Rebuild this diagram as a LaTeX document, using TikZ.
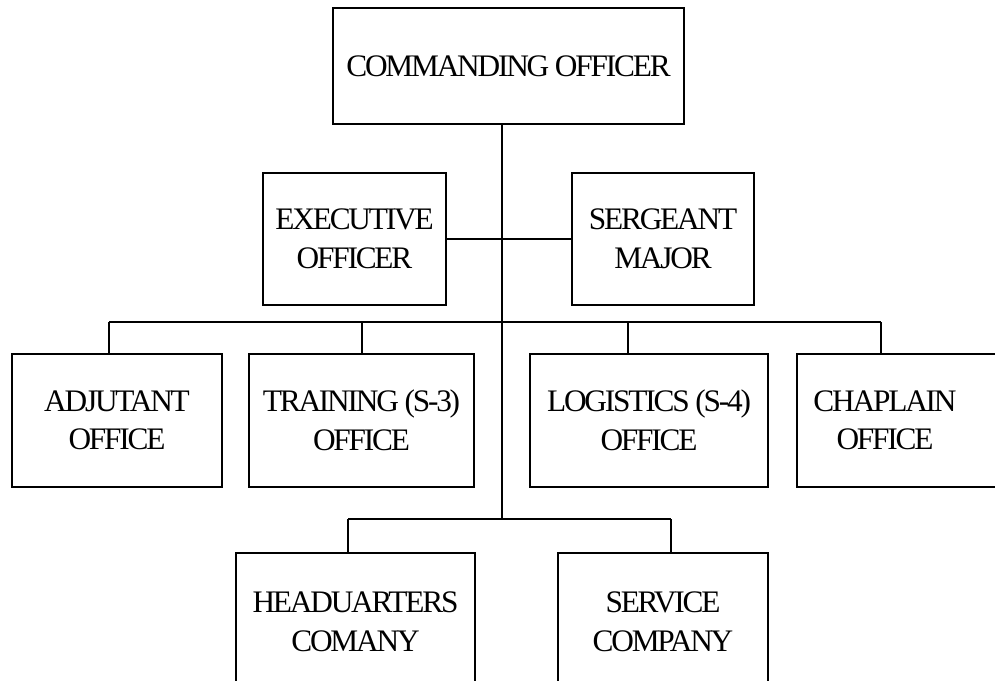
\documentclass[tikz,border=0pt]{standalone}
\usepackage{fontspec}
\usepackage{tikz}
\newfontfamily\orgfont{Liberation Serif}[LetterSpace=-7.0]
\newlength\px
\setlength\px{0.75pt}
\tikzset{
	unit/.style={draw, line width=1.5\px, align=center, inner sep=0pt,
		font=\orgfont\fontsize{23.5}{28.9}\selectfont},
	link/.style={line width=1.5\px},
	label text/.style={align=center, inner sep=0pt,
		font=\orgfont\fontsize{23.5}{28.9}\selectfont}
}
\begin{document}
\begin{tikzpicture}[x=\px, y=-\px]
	\useasboundingbox (0,0) rectangle (995,681);
	\node[unit, minimum width=351\px, minimum height=116\px] (co) at (508.5,66) {COMMANDING OFFICER};
	\node[unit, minimum width=183\px, minimum height=132\px] (xo) at (354.5,239) {EXECUTIVE\\OFFICER};
	\node[unit, minimum width=182\px, minimum height=132\px] (sgm) at (663,239) {SERGEANT\\MAJOR};
	\node[unit, minimum width=210\px, minimum height=133\px] (adj) at (117,420.5) {ADJUTANT\\OFFICE};
	\node[unit, minimum width=225\px, minimum height=133\px] (train) at (361.5,420.5) {TRAINING (S-3)\\OFFICE};
	\node[unit, minimum width=238\px, minimum height=133\px] (log) at (649,420.5) {LOGISTICS (S-4)\\OFFICE};
	\node[unit, minimum width=220\px, minimum height=133\px, anchor=west] (chapBox) at (796,420.5) {};
	\node[label text] (chap) at (885,420.5) {CHAPLAIN\\OFFICE};
	\node[unit, minimum width=239\px, minimum height=138\px, anchor=north] (hq) at (355.5,552) {HEADUARTERS\\COMANY};
	\node[unit, minimum width=210\px, minimum height=138\px, anchor=north] (svc) at (663,552) {SERVICE\\COMPANY};
	% spine and buses
	\coordinate (mid) at (502,239);
	\coordinate (low) at (502,519);
	\coordinate (dAdj) at (109,322);
	\coordinate (dTrain) at (362,322);
	\coordinate (dLog) at (628,322);
	\coordinate (dChap) at (881,322);
	\coordinate (dHq) at (348,519);
	\coordinate (dSvc) at (671,519);
	\draw[link] (co.south -| mid) -- (low);
	\draw[link] (xo.east) -- (sgm.west);
	\draw[link] (dAdj) -- (dChap);
	\draw[link] (dHq) -- (dSvc);
	\foreach \d/\n in {dAdj/adj,dTrain/train,dLog/log,dChap/chapBox,dHq/hq,dSvc/svc}
	\draw[link] (\d) -- (\d |- \n.north);
\end{tikzpicture}
\end{document}
